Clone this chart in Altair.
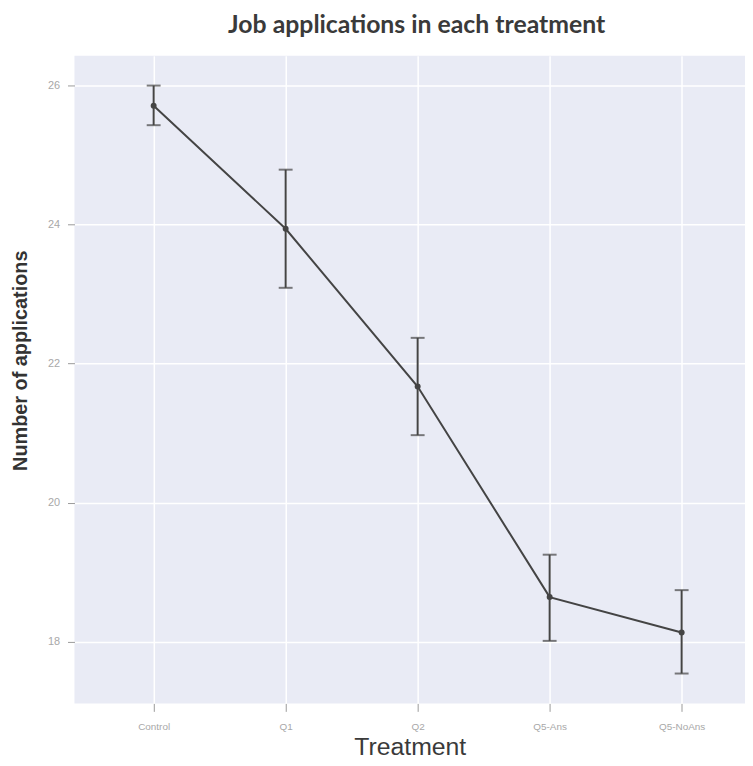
import json
import altair as alt
import pandas as pd

treatments = ["Control", "Q1", "Q2", "Q5-Ans", "Q5-NoAns"]
means = [25.71, 23.94, 21.67, 18.64, 18.13]
lower = [25.43, 23.09, 20.97, 18.01, 17.54]
upper = [26.00, 24.79, 22.37, 19.25, 18.74]
y_ticks = [18, 20, 22, 24, 26]

df = pd.DataFrame({
    "idx": list(range(len(treatments))),
    "treatment": treatments,
    "mean": means,
    "lo": lower,
    "hi": upper,
})

label_expr = json.dumps(treatments) + "[datum.value]"

x_enc = alt.X(
    "idx:Q",
    scale=alt.Scale(domain=[-0.6, 4.48], nice=False, zero=False),
    axis=alt.Axis(
        values=list(range(len(treatments))),
        labelExpr=label_expr,
        title="Treatment",
        titleFont="Liberation Sans",
        titleFontSize=25,
        titleFontWeight="normal",
        titleColor="#3a3a3a",
        titlePadding=3,
        labelFont="Liberation Sans",
        labelFontSize=10,
        labelColor="#a8a8a8",
        labelPadding=10,
        tickColor="#9a9a9a",
        tickSize=8,
        domain=False,
        grid=True,
        gridColor="white",
        gridWidth=1.5,
    ),
)

y_scale = alt.Scale(domain=[17.11, 26.43], nice=False, zero=False)
y_axis = alt.Axis(
    values=y_ticks,
    format="d",
    title="Number of applications",
    titleFont="Liberation Sans",
    titleFontSize=20,
    titleFontWeight="bold",
    titleColor="#333333",
    titleX=-44,
    titleY=307,
    labelFont="Liberation Sans",
    labelFontSize=11,
    labelColor="#a8a8a8",
    labelPadding=8,
    tickColor="#9a9a9a",
    tickSize=7,
    domain=False,
    grid=True,
    gridColor="white",
    gridWidth=1.5,
)

base = alt.Chart(df)

line = base.mark_line(color="#444444", strokeWidth=2).encode(
    x=x_enc,
    y=alt.Y("mean:Q", scale=y_scale, axis=y_axis),
)
points = base.mark_point(filled=True, color="#444444", size=36, opacity=1).encode(
    x="idx:Q", y="mean:Q"
)
bars = base.mark_rule(color="#444444", strokeWidth=2).encode(
    x="idx:Q", y="lo:Q", y2="hi:Q"
)
cap_lo = base.mark_tick(color="#444444", thickness=2, size=14, orient="horizontal").encode(
    x="idx:Q", y="lo:Q"
)
cap_hi = base.mark_tick(color="#444444", thickness=2, size=14, orient="horizontal").encode(
    x="idx:Q", y="hi:Q"
)

chart = (
    alt.layer(line, bars, cap_lo, cap_hi, points)
    .properties(
        width=676,
        height=653,
        autosize=alt.AutoSizeParams(type="none"),
        padding={"left": 67, "top": 45, "right": 0, "bottom": 58},
        background="white",
        title=alt.TitleParams(
            "Job applications in each treatment",
            font="Lato",
            fontSize=25,
            fontWeight="bold",
            color="#3a3a3a",
            anchor="middle",
            offset=18,
            dx=7,
        ),
    )
    .configure_view(fill="#e9ebf5", strokeWidth=0)
)

chart.save("out.html", embed_options={"renderer": "svg", "actions": False})
